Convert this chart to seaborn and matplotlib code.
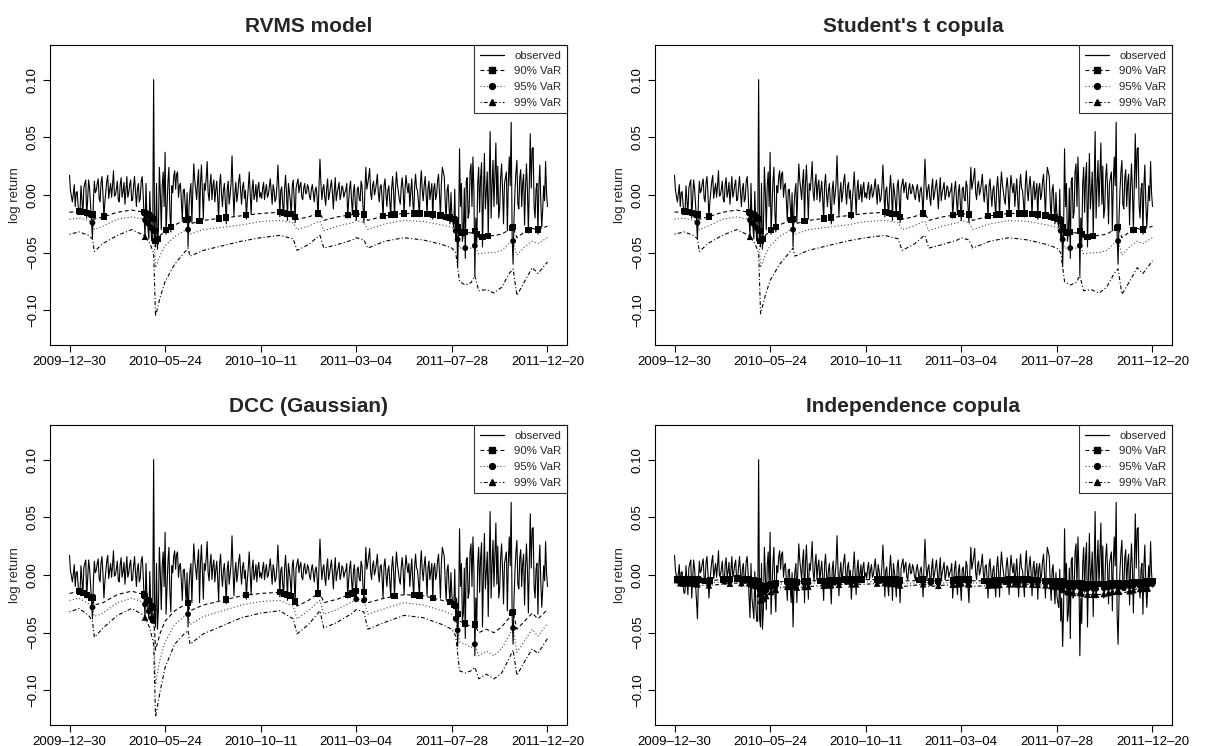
import numpy as np
import matplotlib
matplotlib.use("Agg")
import matplotlib.pyplot as plt
import seaborn as sns
from matplotlib.lines import Line2D

# ---------------- data ----------------
tick_days = [0, 100, 200, 300, 400, 500]
tick_labels = ["2009-12-30", "2010-05-24", "2010-10-11", "2011-03-04", "2011-07-28", "2011-12-20"]

# observed daily log returns, trading day 0 .. 500 (20 days per row)
observed = [
    0.017, 0.004, -0.001, -0.006, 0.001, 0.009, -0.010, 0.002, 0.003, -0.009, -0.016, -0.015, 0.008, -0.004, -0.017, 0.006, 0.010, 0.013, -0.020, -0.004,
    0.013, 0.006, -0.008, -0.022, -0.038, -0.005, 0.012, 0.002, 0.004, 0.010, 0.014, -0.003, -0.006, 0.011, 0.016, 0.001, -0.020, -0.006, 0.003, 0.012,
    0.017, -0.003, 0.004, 0.010, -0.002, 0.008, 0.021, -0.001, 0.000, 0.005, 0.012, -0.004, -0.006, 0.009, 0.015, -0.002, 0.003, 0.011, -0.008, 0.004,
    0.016, -0.002, 0.002, 0.009, 0.013, -0.005, -0.004, 0.007, 0.016, 0.003, -0.010, 0.005, 0.010, -0.006, -0.003, 0.012, 0.016, 0.002, -0.019, -0.037,
    0.010, -0.020, -0.028, -0.038, 0.003, -0.025, -0.040, -0.040, 0.100, -0.038, -0.045, 0.010, -0.047, -0.030, 0.024, 0.002, -0.030, 0.008, 0.020, -0.010,
    0.037, -0.034, -0.010, 0.012, 0.024, -0.015, -0.032, 0.008, 0.002, 0.016, 0.021, 0.005, 0.018, 0.020, -0.002, 0.008, 0.010, -0.005, -0.022, 0.004,
    0.005, -0.008, -0.024, 0.002, -0.045, -0.010, 0.003, 0.010, -0.024, 0.004, 0.027, 0.013, 0.005, -0.004, 0.012, 0.022, -0.024, 0.010, 0.026, 0.004,
    -0.021, 0.010, 0.004, 0.015, 0.029, 0.002, -0.005, 0.010, 0.018, -0.004, 0.008, 0.013, -0.006, 0.004, 0.012, -0.003, -0.022, 0.009, 0.018, 0.001,
    -0.010, 0.004, 0.010, -0.006, -0.025, 0.005, 0.012, -0.008, 0.000, 0.010, 0.034, 0.006, -0.018, 0.002, 0.011, -0.006, 0.001, 0.012, 0.018, 0.003,
    -0.008, 0.007, 0.011, -0.003, 0.004, -0.021, -0.005, 0.006, 0.020, 0.001, -0.017, 0.005, 0.013, -0.004, 0.000, 0.009, -0.006, 0.006, 0.011, -0.002,
    0.002, -0.003, 0.006, 0.011, -0.004, 0.004, 0.009, -0.002, 0.000, 0.007, 0.014, 0.003, -0.008, 0.009, 0.004, -0.006, -0.003, 0.008, 0.026, 0.006,
    -0.019, 0.004, 0.007, -0.008, -0.018, 0.006, 0.017, 0.002, -0.022, 0.010, 0.003, -0.005, -0.019, 0.008, 0.013, -0.003, -0.024, 0.006, 0.010, 0.014,
    0.002, 0.008, 0.011, -0.002, -0.004, 0.006, 0.010, 0.001, 0.002, 0.009, 0.006, -0.001, -0.004, 0.005, 0.009, 0.002, -0.006, 0.004, 0.007, -0.002,
    -0.019, 0.008, 0.031, 0.010, -0.004, 0.005, 0.009, -0.002, -0.009, 0.006, 0.014, -0.004, 0.001, 0.007, 0.013, 0.002, -0.012, 0.004, 0.015, -0.005,
    0.002, 0.006, 0.011, -0.004, 0.000, 0.008, 0.006, -0.002, 0.002, 0.004, 0.010, -0.020, -0.005, 0.006, 0.012, -0.004, -0.017, 0.003, 0.009, -0.008,
    -0.022, 0.005, 0.007, -0.003, -0.005, 0.012, 0.008, -0.010, -0.024, 0.004, 0.024, 0.005, 0.010, 0.016, 0.023, 0.002, -0.004, 0.008, 0.012, 0.000,
    0.004, 0.010, 0.018, 0.002, -0.006, 0.007, 0.009, -0.003, -0.020, 0.008, 0.014, 0.001, -0.010, 0.004, 0.008, -0.005, -0.019, 0.006, 0.016, 0.003,
    -0.019, 0.006, 0.020, 0.009, 0.003, -0.004, -0.008, 0.007, 0.015, 0.004, -0.017, 0.005, 0.017, 0.008, 0.002, 0.010, -0.010, 0.003, 0.014, -0.004,
    -0.019, 0.007, 0.018, 0.006, 0.004, -0.006, -0.019, 0.009, 0.021, 0.004, -0.005, 0.008, 0.016, 0.002, -0.018, 0.006, 0.012, -0.004, 0.003, 0.010,
    -0.021, 0.006, 0.010, -0.004, 0.000, 0.012, 0.018, 0.002, -0.020, 0.010, 0.024, 0.020, 0.016, -0.006, -0.022, 0.004, 0.009, -0.010, -0.025, 0.002,
    -0.018, -0.024, -0.028, 0.005, -0.040, -0.020, -0.062, -0.030, 0.040, -0.010, 0.010, -0.040, -0.033, 0.006, -0.055, 0.012, 0.015, -0.020, -0.015, 0.020,
    0.027, -0.010, 0.033, 0.005, -0.070, -0.020, -0.042, 0.010, 0.024, -0.015, 0.015, 0.028, -0.045, 0.000, 0.036, -0.012, 0.003, 0.020, -0.036, 0.012,
    0.055, -0.020, 0.008, 0.030, -0.010, 0.018, 0.045, -0.008, 0.025, -0.020, -0.012, 0.015, 0.027, 0.004, -0.025, 0.010, 0.015, 0.020, -0.031, 0.010,
    0.033, 0.008, 0.063, -0.035, -0.060, -0.020, 0.004, 0.020, 0.030, -0.008, -0.012, 0.015, 0.022, -0.010, 0.010, 0.018, -0.026, 0.006, 0.027, 0.005,
    -0.033, 0.012, 0.053, 0.006, 0.040, 0.041, -0.010, -0.020, 0.005, 0.010, -0.034, 0.008, 0.026, -0.006, -0.028, -0.012, 0.008, -0.005, 0.029, 0.002,
    -0.010,
]
obs_days = list(range(len(observed)))

# VaR forecasts read at these trading days
var_days = [0, 10, 20, 24, 26, 35, 50, 65, 78, 84, 88, 90, 95, 100, 110, 120, 124, 126,
            140, 160, 180, 200, 220, 234, 238, 250, 260, 262, 266, 280, 296, 300, 308,
            312, 330, 350, 370, 390, 400, 404, 408, 414, 420, 424, 428, 436, 444, 452,
            460, 464, 468, 476, 484, 490, 500]

rvms_90 = [-0.015, -0.014, -0.016, -0.017, -0.021, -0.019, -0.015, -0.013, -0.015, -0.018,
           -0.022, -0.040, -0.035, -0.031, -0.026, -0.022, -0.021, -0.025, -0.022, -0.020,
           -0.018, -0.016, -0.015, -0.017, -0.021, -0.019, -0.016, -0.016, -0.022, -0.019,
           -0.017, -0.016, -0.017, -0.022, -0.018, -0.016, -0.016, -0.018, -0.020, -0.022,
           -0.033, -0.032, -0.033, -0.031, -0.037, -0.036, -0.035, -0.034, -0.030, -0.028,
           -0.037, -0.032, -0.029, -0.030, -0.027]
rvms_95 = [-0.021, -0.020, -0.022, -0.024, -0.030, -0.027, -0.021, -0.019, -0.021, -0.026,
           -0.031, -0.063, -0.052, -0.044, -0.036, -0.031, -0.030, -0.034, -0.030, -0.028,
           -0.026, -0.023, -0.022, -0.024, -0.030, -0.027, -0.023, -0.023, -0.031, -0.027,
           -0.024, -0.022, -0.024, -0.030, -0.025, -0.022, -0.023, -0.026, -0.028, -0.031,
           -0.046, -0.046, -0.046, -0.044, -0.051, -0.050, -0.050, -0.048, -0.042, -0.040,
           -0.052, -0.045, -0.040, -0.042, -0.037]
rvms_99 = [-0.034, -0.032, -0.035, -0.038, -0.049, -0.042, -0.035, -0.030, -0.035, -0.042,
           -0.050, -0.105, -0.088, -0.075, -0.060, -0.050, -0.046, -0.053, -0.048, -0.044,
           -0.040, -0.037, -0.035, -0.038, -0.048, -0.043, -0.036, -0.035, -0.046, -0.043,
           -0.039, -0.037, -0.039, -0.046, -0.040, -0.037, -0.039, -0.043, -0.046, -0.050,
           -0.075, -0.078, -0.076, -0.070, -0.083, -0.082, -0.085, -0.080, -0.068, -0.064,
           -0.087, -0.075, -0.063, -0.068, -0.058]

t_90 = rvms_90
t_95 = rvms_95
t_99 = [-0.034, -0.032, -0.035, -0.038, -0.049, -0.042, -0.035, -0.030, -0.035, -0.042,
        -0.050, -0.103, -0.087, -0.074, -0.060, -0.050, -0.046, -0.053, -0.048, -0.044,
        -0.040, -0.037, -0.035, -0.038, -0.048, -0.043, -0.036, -0.035, -0.046, -0.043,
        -0.039, -0.037, -0.039, -0.046, -0.040, -0.037, -0.039, -0.043, -0.046, -0.050,
        -0.075, -0.078, -0.076, -0.070, -0.083, -0.082, -0.085, -0.080, -0.068, -0.064,
        -0.086, -0.075, -0.063, -0.068, -0.057]

dcc_90 = [-0.016, -0.014, -0.018, -0.020, -0.026, -0.024, -0.017, -0.014, -0.017, -0.024,
          -0.030, -0.065, -0.050, -0.040, -0.031, -0.026, -0.024, -0.031, -0.026, -0.022,
          -0.018, -0.016, -0.015, -0.019, -0.027, -0.022, -0.016, -0.015, -0.024, -0.021,
          -0.016, -0.014, -0.015, -0.024, -0.020, -0.017, -0.018, -0.022, -0.024, -0.027,
          -0.040, -0.042, -0.045, -0.043, -0.050, -0.047, -0.050, -0.045, -0.037, -0.032,
          -0.047, -0.040, -0.033, -0.038, -0.030]
dcc_95 = [-0.022, -0.020, -0.025, -0.028, -0.036, -0.033, -0.024, -0.020, -0.024, -0.033,
          -0.042, -0.095, -0.072, -0.058, -0.043, -0.036, -0.034, -0.043, -0.036, -0.031,
          -0.026, -0.023, -0.022, -0.027, -0.038, -0.031, -0.023, -0.022, -0.034, -0.030,
          -0.023, -0.021, -0.022, -0.034, -0.029, -0.024, -0.026, -0.031, -0.034, -0.038,
          -0.058, -0.060, -0.063, -0.060, -0.070, -0.066, -0.070, -0.064, -0.052, -0.046,
          -0.067, -0.057, -0.047, -0.053, -0.042]
dcc_99 = [-0.032, -0.029, -0.035, -0.040, -0.054, -0.046, -0.035, -0.029, -0.035, -0.046,
          -0.060, -0.123, -0.100, -0.080, -0.060, -0.051, -0.048, -0.060, -0.051, -0.044,
          -0.037, -0.033, -0.031, -0.038, -0.051, -0.043, -0.033, -0.031, -0.046, -0.041,
          -0.033, -0.030, -0.032, -0.047, -0.041, -0.035, -0.037, -0.043, -0.047, -0.053,
          -0.083, -0.085, -0.083, -0.080, -0.090, -0.086, -0.090, -0.085, -0.072, -0.065,
          -0.087, -0.075, -0.064, -0.068, -0.055]

ind_90 = [-0.004, -0.004, -0.004, -0.004, -0.005, -0.005, -0.004, -0.003, -0.004, -0.005,
          -0.005, -0.012, -0.010, -0.008, -0.006, -0.005, -0.005, -0.006, -0.005, -0.005,
          -0.004, -0.004, -0.004, -0.004, -0.005, -0.005, -0.004, -0.004, -0.005, -0.005,
          -0.004, -0.004, -0.004, -0.005, -0.005, -0.004, -0.004, -0.005, -0.005, -0.005,
          -0.007, -0.007, -0.007, -0.007, -0.008, -0.008, -0.008, -0.008, -0.007, -0.007,
          -0.008, -0.007, -0.006, -0.006, -0.005]
ind_95 = [-0.005, -0.005, -0.005, -0.006, -0.007, -0.007, -0.006, -0.005, -0.005, -0.007,
          -0.007, -0.017, -0.014, -0.011, -0.008, -0.007, -0.007, -0.008, -0.007, -0.007,
          -0.006, -0.006, -0.005, -0.006, -0.007, -0.007, -0.006, -0.006, -0.007, -0.007,
          -0.006, -0.005, -0.006, -0.007, -0.007, -0.006, -0.006, -0.007, -0.007, -0.007,
          -0.010, -0.010, -0.011, -0.011, -0.012, -0.012, -0.012, -0.011, -0.010, -0.010,
          -0.012, -0.010, -0.009, -0.009, -0.008]
ind_99 = [-0.007, -0.007, -0.007, -0.008, -0.009, -0.009, -0.008, -0.007, -0.007, -0.009,
          -0.010, -0.022, -0.019, -0.015, -0.011, -0.010, -0.009, -0.011, -0.010, -0.009,
          -0.008, -0.008, -0.007, -0.008, -0.010, -0.009, -0.008, -0.008, -0.010, -0.009,
          -0.008, -0.007, -0.008, -0.010, -0.009, -0.008, -0.008, -0.009, -0.010, -0.010,
          -0.014, -0.015, -0.016, -0.015, -0.017, -0.017, -0.017, -0.016, -0.014, -0.014,
          -0.016, -0.014, -0.012, -0.012, -0.011]

panel_titles = ["RVMS model", "Student's t copula", "DCC (Gaussian)", "Independence copula"]
panel_var = [(rvms_90, rvms_95, rvms_99), (t_90, t_95, t_99),
             (dcc_90, dcc_95, dcc_99), (ind_90, ind_95, ind_99)]
legend_labels = ["observed", "90% VaR", "95% VaR", "99% VaR"]

# ---------------- styling ----------------
sns.set_theme(style="ticks")
plt.rcParams['font.family'] = ['Liberation Sans', 'DejaVu Sans']
plt.rcParams['axes.edgecolor'] = 'black'
plt.rcParams['xtick.color'] = 'black'
plt.rcParams['ytick.color'] = 'black'

W, H = 1211, 746
fig = plt.figure(figsize=(W / 100, H / 100), dpi=100)
ax_w, ax_h = 517, 300
corners = [(50, 45), (655, 45), (50, 425), (655, 425)]

styles = [
    dict(ls=(0, (3.5, 2.5)), marker='s', ms=4.5, color='black'),
    dict(ls=(0, (1, 2)), marker='o', ms=4.2, color='#444444'),
    dict(ls=(0, (1, 2, 3.5, 2)), marker='^', ms=4.8, color='black'),
]

obs_arr = np.array(observed)
obs_x = np.array(obs_days)

for (l, t), title, vars3 in zip(corners, panel_titles, panel_var):
    ax = fig.add_axes([l / W, 1 - (t + ax_h) / H, ax_w / W, ax_h / H])
    for v, st in zip(vars3, styles):
        sns.lineplot(x=var_days, y=v, ax=ax, color=st['color'], linestyle=st['ls'],
                     linewidth=0.8, estimator=None, sort=False)
    sns.lineplot(x=obs_days, y=observed, ax=ax, color='black', linewidth=0.8,
                 estimator=None, sort=False)
    for v, st in zip(vars3, styles):
        v_at = np.interp(obs_x, var_days, v)
        hit = obs_arr < v_at
        sns.scatterplot(x=obs_x[hit], y=v_at[hit], ax=ax, marker=st['marker'],
                        s=st['ms'] ** 2, color='black', edgecolor='none', linewidth=0,
                        zorder=5)
    ax.set_xlim(-20.4, 520.4)
    ax.set_ylim(-0.13, 0.13)
    ax.set_xticks(tick_days)
    ax.set_xticklabels([s.replace("-", "\u2013") for s in tick_labels], fontsize=9.5)
    yt = [-0.10, -0.05, 0.0, 0.05, 0.10]
    ax.set_yticks(yt)
    ax.set_yticklabels([("%.2f" % y).replace("-", "\u2212") for y in yt], fontsize=9.5,
                       rotation=90, va='center')
    ax.tick_params(length=5, width=0.8, pad=3)
    ax.set_xlabel("")
    ax.set_ylabel("log return", fontsize=9.5, labelpad=4)
    ax.set_title(title, fontsize=15, fontweight='bold', pad=9)
    for sp in ax.spines.values():
        sp.set_linewidth(0.8)
        sp.set_color('black')
    handles = [Line2D([], [], color='black', lw=0.9)]
    for st in styles:
        handles.append(Line2D([], [], color=st['color'], ls=st['ls'], lw=0.8,
                              marker=st['marker'], ms=st['ms'], mfc='black', mec='black'))
    leg = ax.legend(handles, legend_labels, loc='upper right', fontsize=8.2,
                    frameon=True, fancybox=False, borderaxespad=0, handlelength=2.1,
                    handletextpad=0.9, labelspacing=0.5, borderpad=0.5)
    leg.get_frame().set_edgecolor('black')
    leg.get_frame().set_linewidth(0.8)

fig.savefig("out.png", dpi=100)
